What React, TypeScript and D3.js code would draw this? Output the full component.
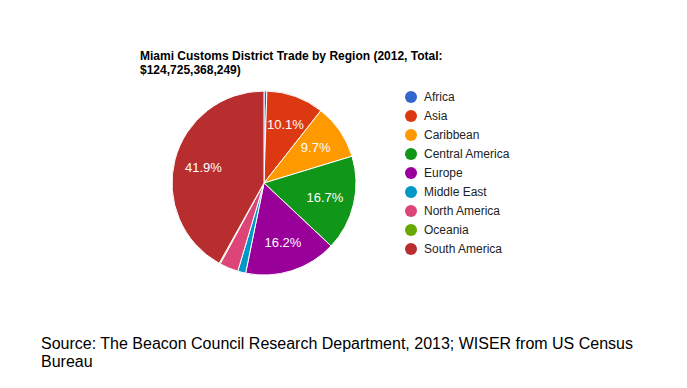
import React, { useEffect, useRef } from 'react';
import * as d3 from 'd3';

const regions = ['Africa', 'Asia', 'Caribbean', 'Central America', 'Europe', 'Middle East', 'North America', 'Oceania', 'South America'];
const shares = [0.5, 10.1, 9.7, 16.7, 16.2, 1.4, 3.3, 0.2, 41.9];
const colors = ['#3366cc', '#dc3912', '#ff9900', '#109618', '#990099', '#0099c6', '#dd4477', '#66aa00', '#b82e2e'];
const titleLines = ['Miami Customs District Trade by Region (2012, Total:', '$124,725,368,249)'];
const sourceLines = ['Source: The Beacon Council Research Department, 2013; WISER from US Census', 'Bureau'];

const App = () => {
  const ref = useRef<SVGSVGElement>(null);

  useEffect(() => {
    const svg = d3.select(ref.current);
    svg.selectAll('*').remove();

    const width = 687, height = 388;
    const cx = 264, cy = 183, radius = 92;
    const font = 'Arial, "Liberation Sans", sans-serif';

    svg.attr('width', width).attr('height', height);

    const data = regions.map((name, i) => ({ name, value: shares[i], color: colors[i] }));
    const total = d3.sum(data, d => d.value);

    const pie = d3.pie<any>().value(d => d.value).sort(null);
    const arc = d3.arc<any>().innerRadius(0).outerRadius(radius);
    const labelArc = d3.arc<any>().innerRadius(radius * 0.68).outerRadius(radius * 0.68);

    // title
    const title = svg.append('text')
      .attr('font-family', font)
      .attr('font-size', 12)
      .attr('font-weight', 'bold')
      .attr('fill', '#000');
    titleLines.forEach((t, i) => {
      title.append('tspan').attr('x', 140).attr('y', 59.5 + i * 14).text(t);
    });

    const g = svg.append('g').attr('transform', `translate(${cx},${cy})`);
    const slices = pie(data);

    g.selectAll('path.slice')
      .data(slices)
      .enter()
      .append('path')
      .attr('class', 'slice')
      .attr('d', arc)
      .attr('fill', d => d.data.color)
      .attr('stroke', '#fff')
      .attr('stroke-width', 1);

    // only the big slices get a percentage
    g.selectAll('text.pct')
      .data(slices.filter(d => d.data.value / total > 0.05))
      .enter()
      .append('text')
      .attr('class', 'pct')
      .attr('transform', d => `translate(${labelArc.centroid(d)})`)
      .attr('text-anchor', 'middle')
      .attr('dy', '0.35em')
      .attr('font-family', font)
      .attr('font-size', 13)
      .attr('fill', '#fff')
      .text(d => `${d.data.value.toFixed(1)}%`);

    // legend
    const legend = svg.append('g').attr('transform', 'translate(411,97)');
    const rows = legend.selectAll('g.row')
      .data(data)
      .enter()
      .append('g')
      .attr('class', 'row')
      .attr('transform', (d, i) => `translate(0,${i * 19})`);
    rows.append('circle').attr('r', 6).attr('fill', d => d.color);
    rows.append('text')
      .attr('x', 13)
      .attr('dy', '0.35em')
      .attr('font-family', font)
      .attr('font-size', 12)
      .attr('fill', '#222')
      .text(d => d.name);

    // source
    const source = svg.append('text')
      .attr('font-family', font)
      .attr('font-size', 16)
      .attr('fill', '#000');
    sourceLines.forEach((t, i) => {
      source.append('tspan').attr('x', 41).attr('y', 349 + i * 18).text(t);
    });
  }, []);

  return (
    <div style={{ position: 'absolute', left: 0, top: 0 }}>
      <svg ref={ref}></svg>
    </div>
  );
};

export default App;
